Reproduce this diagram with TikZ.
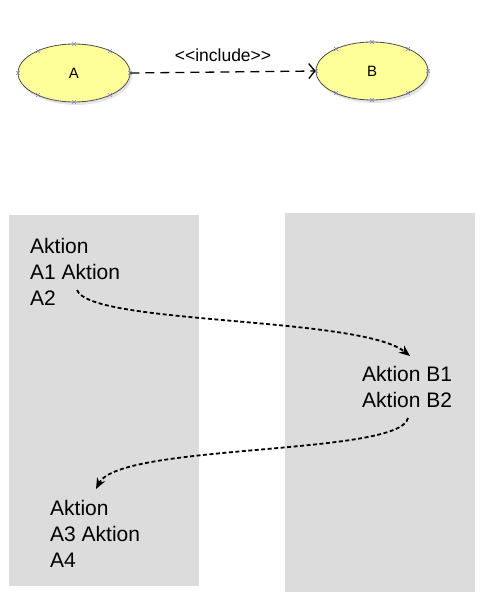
\documentclass[tikz,border=0pt]{standalone}
\usepackage{fontspec}
\setmainfont{Liberation Sans}
\usetikzlibrary{shapes.geometric,arrows.meta,shadows,calc}
\definecolor{ucfill}{RGB}{255,255,153}
\definecolor{lanegray}{RGB}{220,220,220}
\definecolor{markblue}{RGB}{130,130,205}
\tikzset{
  usecase/.style={ellipse, draw=black!70, line width=0.8pt, fill=ucfill,
    minimum width=112pt, minimum height=58pt, inner sep=0pt,
    font=\fontsize{15}{18}\selectfont,
    drop shadow={shadow xshift=2pt, shadow yshift=-3pt, opacity=0.25, fill=black!40}},
  lane/.style={fill=lanegray, draw=none},
  acttext/.style={anchor=north west, inner sep=0pt, align=left,
    font=\fontsize{21}{26}\selectfont},
  flow/.style={line width=1.8pt, dash pattern=on 4pt off 2.5pt,
    -{Stealth[length=11pt,width=9pt]}},
  incl/.style={line width=1.3pt, dash pattern=on 9pt off 6pt,
    -{Straight Barb[length=6pt,width=15pt,line width=1.3pt]}},
  mk/.style={markblue, line width=0.7pt}
}
\newcommand{\xmark}[1]{\draw[mk] ($(#1)+(-1.8,-1.8)$) -- ($(#1)+(1.8,1.8)$) ($(#1)+(-1.8,1.8)$) -- ($(#1)+(1.8,-1.8)$);}
\begin{document}
\begin{tikzpicture}[x=1pt,y=-1pt]
\useasboundingbox (0,0) rectangle (492,607);
% use cases
\node[usecase] (A) at (74,73) {A};
\node[usecase] (B) at (372,71) {B};
% markers
\foreach \c in {A,B}{
  \foreach \dx/\dy in {0/-29,0/29,-56/0,56/0,-36/-22,36/-22,-36/22,36/22}{
    \xmark{$(\c.center)+(\dx,\dy)$}
  }
}
\draw[incl] (A.east) -- node[above=6pt, font=\fontsize{17.5}{20}\selectfont] (lbl) {<{}<include>{}>} (B.west);
% lanes
\node[lane, minimum width=190pt, minimum height=371pt, inner sep=0pt, anchor=north west] (laneA) at (9,215) {};
\node[lane, minimum width=190pt, minimum height=379pt, inner sep=0pt, anchor=north west] (laneB) at (285,213) {};
% action texts
\node[acttext] (ta) at (30,238) {Aktion\\A1 Aktion\\A2};
\node[acttext] (tb) at (362,366) {Aktion B1\\Aktion B2};
\node[acttext] (tc) at (50,500) {Aktion\\A3 Aktion\\A4};
\coordinate (s1) at (77,290);
\coordinate (e1) at (410,356);
\coordinate (s2) at (408,418);
\coordinate (e2) at (96,489);
\draw[flow] (s1) .. controls (90,325) and (360,316) .. (e1);
\draw[flow] (s2) .. controls (400,456) and (120,443) .. (e2);
\end{tikzpicture}
\end{document}
